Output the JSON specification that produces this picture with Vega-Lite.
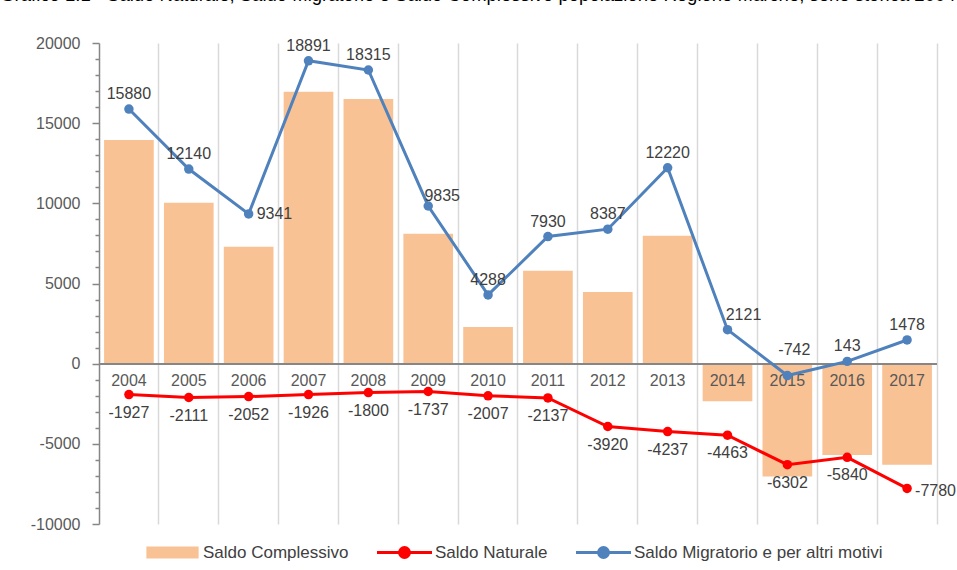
{
  "$schema": "https://vega.github.io/schema/vega-lite/v6.json",
  "width": 838,
  "height": 481,
  "autosize": {"type": "none"},
  "padding": {"left": 99, "top": 43, "right": 20, "bottom": 46},
  "background": "white",
  "title": {
    "text": "Grafico 1.1 - Saldo Naturale, Saldo Migratorio e Saldo Complessivo popolazione Regione Marche, serie storica 2004-2017",
    "anchor": "start",
    "frame": "bounds",
    "orient": "top",
    "baseline": "alphabetic",
    "offset": 26,
    "dx": -30,
    "dy": 10,
    "font": "Liberation Sans",
    "fontSize": 18.5,
    "fontWeight": "normal",
    "color": "#000000"
  },
  "config": {
    "font": "Liberation Sans",
    "view": {"stroke": null},
    "legend": {
      "orient": "none",
      "legendX": 65,
      "legendY": 501,
      "direction": "horizontal",
      "labelFontSize": 17,
      "labelColor": "#404040",
      "labelFont": "Liberation Sans",
      "labelOffset": 22,
      "columnPadding": 22,
      "gridAlign": "none",
      "symbolSize": 3025,
      "title": null,
      "labelLimit": 400
    }
  },
  "data": {
    "values": [
      {"year": 2004, "series": "Saldo Complessivo", "value": 13953},
      {"year": 2005, "series": "Saldo Complessivo", "value": 10029},
      {"year": 2006, "series": "Saldo Complessivo", "value": 7289},
      {"year": 2007, "series": "Saldo Complessivo", "value": 16965},
      {"year": 2008, "series": "Saldo Complessivo", "value": 16515},
      {"year": 2009, "series": "Saldo Complessivo", "value": 8098},
      {"year": 2010, "series": "Saldo Complessivo", "value": 2281},
      {"year": 2011, "series": "Saldo Complessivo", "value": 5793},
      {"year": 2012, "series": "Saldo Complessivo", "value": 4467},
      {"year": 2013, "series": "Saldo Complessivo", "value": 7983},
      {"year": 2014, "series": "Saldo Complessivo", "value": -2342},
      {"year": 2015, "series": "Saldo Complessivo", "value": -7044},
      {"year": 2016, "series": "Saldo Complessivo", "value": -5697},
      {"year": 2017, "series": "Saldo Complessivo", "value": -6302},
      {"year": 2004, "series": "Saldo Naturale", "value": -1927},
      {"year": 2005, "series": "Saldo Naturale", "value": -2111},
      {"year": 2006, "series": "Saldo Naturale", "value": -2052},
      {"year": 2007, "series": "Saldo Naturale", "value": -1926},
      {"year": 2008, "series": "Saldo Naturale", "value": -1800},
      {"year": 2009, "series": "Saldo Naturale", "value": -1737},
      {"year": 2010, "series": "Saldo Naturale", "value": -2007},
      {"year": 2011, "series": "Saldo Naturale", "value": -2137},
      {"year": 2012, "series": "Saldo Naturale", "value": -3920},
      {"year": 2013, "series": "Saldo Naturale", "value": -4237},
      {"year": 2014, "series": "Saldo Naturale", "value": -4463},
      {"year": 2015, "series": "Saldo Naturale", "value": -6302},
      {"year": 2016, "series": "Saldo Naturale", "value": -5840},
      {"year": 2017, "series": "Saldo Naturale", "value": -7780},
      {"year": 2004, "series": "Saldo Migratorio e per altri motivi", "value": 15880},
      {"year": 2005, "series": "Saldo Migratorio e per altri motivi", "value": 12140},
      {"year": 2006, "series": "Saldo Migratorio e per altri motivi", "value": 9341},
      {"year": 2007, "series": "Saldo Migratorio e per altri motivi", "value": 18891},
      {"year": 2008, "series": "Saldo Migratorio e per altri motivi", "value": 18315},
      {"year": 2009, "series": "Saldo Migratorio e per altri motivi", "value": 9835},
      {"year": 2010, "series": "Saldo Migratorio e per altri motivi", "value": 4288},
      {"year": 2011, "series": "Saldo Migratorio e per altri motivi", "value": 7930},
      {"year": 2012, "series": "Saldo Migratorio e per altri motivi", "value": 8387},
      {"year": 2013, "series": "Saldo Migratorio e per altri motivi", "value": 12220},
      {"year": 2014, "series": "Saldo Migratorio e per altri motivi", "value": 2121},
      {"year": 2015, "series": "Saldo Migratorio e per altri motivi", "value": -742},
      {"year": 2016, "series": "Saldo Migratorio e per altri motivi", "value": 143},
      {"year": 2017, "series": "Saldo Migratorio e per altri motivi", "value": 1478}
    ]
  },
  "encoding": {
    "x": {
      "field": "year",
      "type": "nominal",
      "scale": {"type": "band", "paddingInner": 0, "paddingOuter": 0},
      "axis": {
        "title": null,
        "labels": false,
        "ticks": false,
        "domain": false,
        "grid": true,
        "bandPosition": 1,
        "gridColor": "#d9d9d9",
        "gridWidth": 1.5
      }
    }
  },
  "layer": [
    {
      "transform": [{"filter": "datum.series === 'Saldo Complessivo'"}],
      "mark": {"type": "bar", "width": {"band": 0.83}},
      "encoding": {
        "y": {
          "field": "value",
          "type": "quantitative",
          "scale": {"domain": [-10000, 20000], "nice": false, "zero": false},
          "axis": {
            "title": null,
            "orient": "left",
            "values": [-10000, -9000, -8000, -7000, -6000, -5000, -4000, -3000, -2000, -1000, 0, 1000, 2000, 3000, 4000, 5000, 6000, 7000, 8000, 9000, 10000, 11000, 12000, 13000, 14000, 15000, 16000, 17000, 18000, 19000, 20000],
            "tickCount": 40,
            "labelExpr": "datum.value % 5000 === 0 ? '' + datum.value : ''",
            "labelOverlap": false,
            "labelBound": false,
            "labelFlush": false,
            "grid": false,
            "domainColor": "#868686",
            "domainWidth": 1.5,
            "tickColor": "#868686",
            "tickWidth": 1.5,
            "tickSize": {"condition": {"test": "datum.value % 5000 === 0", "value": 7}, "value": 4},
            "labelPadding": {"condition": {"test": "datum.value % 5000 === 0", "value": 12}, "value": 15},
            "labelFontSize": 16,
            "labelColor": "#595959",
            "labelFont": "Liberation Sans"
          }
        },
        "color": {
          "field": "series",
          "type": "nominal",
          "scale": {
            "domain": ["Saldo Complessivo", "Saldo Naturale", "Saldo Migratorio e per altri motivi"],
            "range": ["#F9C294", "#FF0000", "#4F81BD"]
          },
          "legend": {
            "encode": {
              "symbols": {
                "update": {
                  "shape": {"signal": "datum.value === 'Saldo Complessivo' ? 'M-0.95,-0.22H0.95V0.22H-0.95Z' : 'M-1,0H1M0.18,0A0.18,0.18,0,1,1,-0.18,0A0.18,0.18,0,1,1,0.18,0Z'"},
                  "fill": {"scale": "color", "field": "value"},
                  "stroke": {"scale": "color", "field": "value"},
                  "strokeWidth": {"signal": "datum.value === 'Saldo Complessivo' ? 0 : 3"},
                  "opacity": {"value": 1},
                  "fillOpacity": {"value": 1},
                  "strokeOpacity": {"value": 1}
                }
              }
            }
          }
        }
      }
    },
    {
      "mark": {"type": "rule", "color": "#868686", "strokeWidth": 1.5},
      "encoding": {
        "y": {"datum": 0, "type": "quantitative"},
        "x": {"value": 0},
        "x2": {"value": "width"}
      }
    },
    {
      "transform": [{"filter": "datum.series === 'Saldo Complessivo'"}],
      "mark": {"type": "text", "fontSize": 16, "color": "#595959", "baseline": "middle", "dy": 17, "font": "Liberation Sans"},
      "encoding": {"y": {"datum": 0, "type": "quantitative"}, "text": {"field": "year", "type": "nominal"}}
    },
    {
      "transform": [{"filter": "datum.series === 'Saldo Naturale'"}],
      "mark": {"type": "line", "strokeWidth": 3, "point": {"filled": true, "size": 90}},
      "encoding": {"y": {"field": "value", "type": "quantitative"}, "color": {"field": "series", "type": "nominal"}}
    },
    {
      "transform": [{"filter": "datum.series === 'Saldo Migratorio e per altri motivi'"}],
      "mark": {"type": "line", "strokeWidth": 3, "point": {"filled": true, "size": 90}},
      "encoding": {"y": {"field": "value", "type": "quantitative"}, "color": {"field": "series", "type": "nominal"}}
    },
    {
      "transform": [{"filter": "datum.series === 'Saldo Migratorio e per altri motivi' && indexof([2006, 2009, 2014, 2015], datum.year) < 0"}],
      "mark": {"type": "text", "fontSize": 16, "color": "#404040", "baseline": "middle", "dy": -15},
      "encoding": {"y": {"field": "value", "type": "quantitative"}, "text": {"field": "value", "type": "nominal"}}
    },
    {
      "transform": [{"filter": "datum.series === 'Saldo Migratorio e per altri motivi' && datum.year === 2006"}],
      "mark": {"type": "text", "fontSize": 16, "color": "#404040", "baseline": "middle", "align": "left", "dx": 8},
      "encoding": {"y": {"field": "value", "type": "quantitative"}, "text": {"field": "value", "type": "nominal"}}
    },
    {
      "transform": [{"filter": "datum.series === 'Saldo Migratorio e per altri motivi' && datum.year === 2009"}],
      "mark": {"type": "text", "fontSize": 16, "color": "#404040", "baseline": "middle", "dx": 14, "dy": -10},
      "encoding": {"y": {"field": "value", "type": "quantitative"}, "text": {"field": "value", "type": "nominal"}}
    },
    {
      "transform": [{"filter": "datum.series === 'Saldo Migratorio e per altri motivi' && datum.year === 2014"}],
      "mark": {"type": "text", "fontSize": 16, "color": "#404040", "baseline": "middle", "dx": 16, "dy": -15},
      "encoding": {"y": {"field": "value", "type": "quantitative"}, "text": {"field": "value", "type": "nominal"}}
    },
    {
      "transform": [{"filter": "datum.series === 'Saldo Migratorio e per altri motivi' && datum.year === 2015"}],
      "mark": {"type": "text", "fontSize": 16, "color": "#404040", "baseline": "middle", "dx": 7, "dy": -26},
      "encoding": {"y": {"field": "value", "type": "quantitative"}, "text": {"field": "value", "type": "nominal"}}
    },
    {
      "transform": [{"filter": "datum.series === 'Saldo Naturale' && datum.year !== 2017"}],
      "mark": {"type": "text", "fontSize": 16, "color": "#404040", "baseline": "middle", "dy": 18},
      "encoding": {"y": {"field": "value", "type": "quantitative"}, "text": {"field": "value", "type": "nominal"}}
    },
    {
      "transform": [{"filter": "datum.series === 'Saldo Naturale' && datum.year === 2017"}],
      "mark": {"type": "text", "fontSize": 16, "color": "#404040", "baseline": "middle", "align": "left", "dx": 8, "dy": 3},
      "encoding": {"y": {"field": "value", "type": "quantitative"}, "text": {"field": "value", "type": "nominal"}}
    }
  ]
}
